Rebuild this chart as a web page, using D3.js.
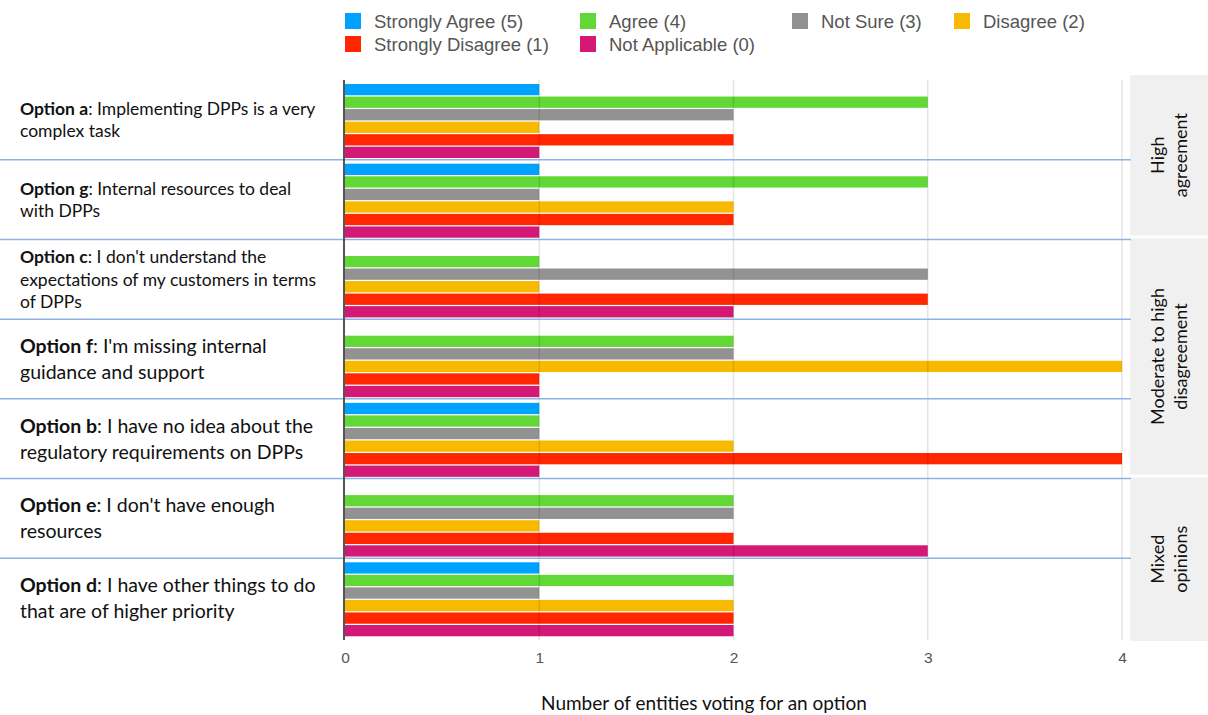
<!DOCTYPE html>
<html>
<head>
<meta charset="utf-8">
<script src="https://cdn.jsdelivr.net/npm/d3@7"></script>
<style>
  body { margin: 0; background: #fff; }
  svg { display: block; }
</style>
</head>
<body>
<svg id="chart" width="1208" height="715"></svg>
<script>
// Survey options, top to bottom
const optionTitles = ["Option a", "Option g", "Option c", "Option f", "Option b", "Option e", "Option d"];
const optionLines = [
  [": Implementing DPPs is a very", "complex task"],
  [": Internal resources to deal", "with DPPs"],
  [": I don't understand the", "expectations of my customers in terms", "of DPPs"],
  [": I'm missing internal", "guidance and support"],
  [": I have no idea about the", "regulatory requirements on DPPs"],
  [": I don't have enough", "resources"],
  [": I have other things to do", "that are of higher priority"]
];

// Answer categories and their counts per option
const seriesNames = ["Strongly Agree (5)", "Agree (4)", "Not Sure (3)", "Disagree (2)", "Strongly Disagree (1)", "Not Applicable (0)"];
const seriesColors = ["#00a2ff", "#61d836", "#929292", "#f8ba00", "#ff2600", "#d41876"];
const stronglyAgree    = [1, 1, 0, 0, 1, 0, 1];
const agree            = [3, 3, 1, 2, 1, 2, 2];
const notSure          = [2, 1, 3, 2, 1, 2, 1];
const disagree         = [1, 2, 1, 4, 2, 1, 2];
const stronglyDisagree = [2, 2, 3, 1, 4, 2, 2];
const notApplicable    = [1, 1, 2, 1, 1, 3, 2];
const seriesValues = [stronglyAgree, agree, notSure, disagree, stronglyDisagree, notApplicable];

// Opinion groups shown at the right
const groupLabels = [["High", "agreement"], ["Moderate to high", "disagreement"], ["Mixed", "opinions"]];
const groupMembers = [["Option a", "Option g"], ["Option c", "Option f", "Option b"], ["Option e", "Option d"]];

const xTicks = [0, 1, 2, 3, 4];
const xTitle = "Number of entities voting for an option";

const svg = d3.select("#chart");
const plotTop = 80, plotBottom = 638;

const x = d3.scaleLinear().domain([0, 4]).range([345, 1122]);
const y = d3.scaleBand().domain(optionTitles).range([plotTop, plotBottom]);
const ySub = d3.scaleBand().domain(seriesNames).range([4, 78]).paddingInner(0.1);
const color = d3.scaleOrdinal().domain(seriesNames).range(seriesColors);

// Group panels
const panelX = 1130;
groupMembers.forEach((members, gi) => {
  const first = members[0], last = members[members.length - 1];
  const li = optionTitles.indexOf(last);
  const top = y(first) - (gi === 0 ? 5 : 1);
  const bottom = li === optionTitles.length - 1 ? plotBottom + 3 : y(optionTitles[li + 1]) - 4;
  svg.append("rect")
    .attr("x", panelX).attr("y", top)
    .attr("width", 1208 - panelX).attr("height", bottom - top)
    .attr("fill", "#f0f0f0");
  const cx = (panelX + 1208) / 2, cy = (top + bottom) / 2;
  const lines = groupLabels[gi];
  const t = svg.append("text")
    .attr("transform", `translate(${cx},${cy}) rotate(-90)`)
    .attr("text-anchor", "middle")
    .attr("font-family", "Lato, 'Open Sans', sans-serif")
    .attr("font-size", 18)
    .attr("fill", "#111");
  lines.forEach((ln, k) => {
    t.append("tspan")
      .attr("x", 0)
      .attr("y", (k - (lines.length - 1) / 2) * 23 + 6)
      .text(ln);
  });
});

// Bars
const rows = svg.append("g");
optionTitles.forEach((opt, oi) => {
  const g = rows.append("g").attr("transform", `translate(0,${y(opt)})`);
  seriesNames.forEach((s, si) => {
    const v = seriesValues[si][oi];
    if (!v) return;
    g.append("rect")
      .attr("x", x(0))
      .attr("y", ySub(s))
      .attr("width", x(v) - x(0))
      .attr("height", ySub.bandwidth())
      .attr("fill", color(s));
  });
});

// Vertical gridlines
svg.append("g").selectAll("line")
  .data(xTicks.slice(1))
  .join("line")
  .attr("x1", d => x(d)).attr("x2", d => x(d))
  .attr("y1", plotTop).attr("y2", plotBottom + 2)
  .attr("stroke", "rgba(0,0,0,0.1)")
  .attr("stroke-width", 1.6);

// Separators between options
svg.append("g").selectAll("line")
  .data(optionTitles.slice(1))
  .join("line")
  .attr("x1", 0).attr("x2", panelX + 1)
  .attr("y1", d => y(d)).attr("y2", d => y(d))
  .attr("stroke", "#8db3e2")
  .attr("stroke-width", 1.5);

// Value axis line
svg.append("line")
  .attr("x1", x(0) - 1).attr("x2", x(0) - 1)
  .attr("y1", plotTop).attr("y2", plotBottom + 2)
  .attr("stroke", "#555").attr("stroke-width", 2);

// X axis
const xAxis = svg.append("g")
  .attr("transform", `translate(0,${plotBottom + 2})`)
  .call(d3.axisBottom(x).tickValues(xTicks).tickSize(0).tickPadding(12).tickFormat(d3.format("d")));
xAxis.select(".domain").remove();
xAxis.selectAll("text")
  .attr("font-family", "'Liberation Sans', Arial, sans-serif")
  .attr("font-size", 15.5)
  .attr("fill", "#555");

svg.append("text")
  .attr("x", 704)
  .attr("y", 710)
  .attr("text-anchor", "middle")
  .attr("font-family", "Lato, 'Open Sans', sans-serif")
  .attr("font-size", 19)
  .attr("fill", "#111")
  .text(xTitle);

// Option labels
optionTitles.forEach((opt, oi) => {
  const lines = optionLines[oi];
  const big = oi >= 3;
  const fs = big ? 19.5 : 17.5;
  const lh = big ? 26 : 22.5;
  const cy = y(opt) + y.bandwidth() / 2;
  const t = svg.append("text")
    .attr("font-family", "Lato, 'Open Sans', sans-serif")
    .attr("font-size", fs)
    .attr("fill", "#111");
  lines.forEach((ln, k) => {
    const base = cy + (k - (lines.length - 1) / 2) * lh + fs * 0.36;
    if (k === 0) {
      t.append("tspan").attr("x", 20).attr("y", base).attr("font-weight", "bold").text(opt);
      t.append("tspan").text(ln);
    } else {
      t.append("tspan").attr("x", 20).attr("y", base).text(ln);
    }
  });
});

// Legend
const legendCols = [345, 580, 792, 954];
const legendRows = [21, 44];
const legend = svg.append("g");
seriesNames.forEach((s, i) => {
  const lx = legendCols[i % 4], ly = legendRows[Math.floor(i / 4)];
  legend.append("rect")
    .attr("x", lx).attr("y", ly - 8)
    .attr("width", 16).attr("height", 16)
    .attr("fill", color(s));
  legend.append("text")
    .attr("x", lx + 29).attr("y", ly + 6.5)
    .attr("font-family", "'Liberation Sans', Arial, sans-serif")
    .attr("font-size", 18.5)
    .attr("fill", "#555")
    .text(s);
});
</script>
</body>
</html>
